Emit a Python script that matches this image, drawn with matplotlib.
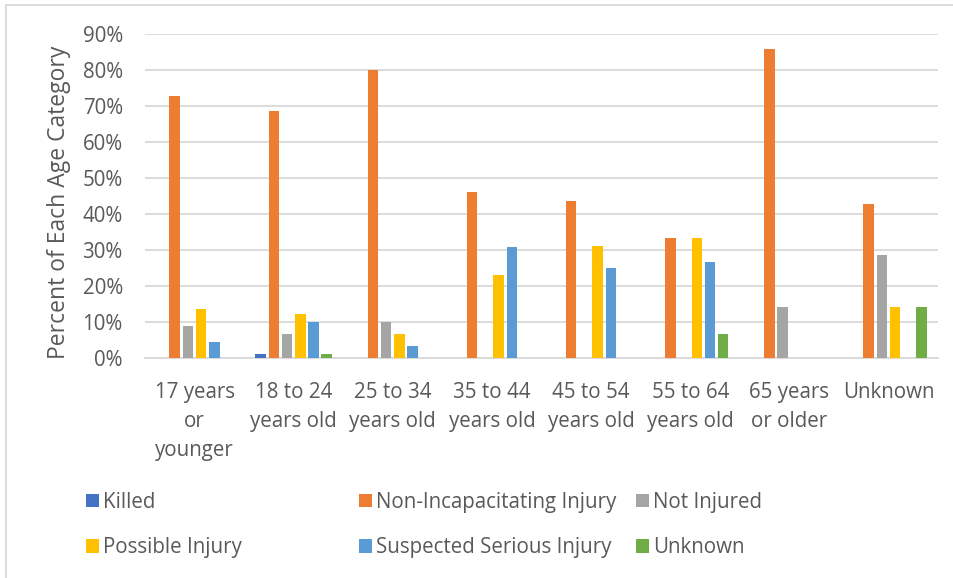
import matplotlib
matplotlib.use("Agg")
import matplotlib.pyplot as plt
from matplotlib.lines import Line2D
from matplotlib.patches import Patch
from matplotlib.ticker import PercentFormatter, MultipleLocator
import numpy as np

plt.rcParams['font.family'] = ['Open Sans', 'DejaVu Sans']

age_groups = ["17 years\nor\nyounger", "18 to 24\nyears old", "25 to 34\nyears old",
              "35 to 44\nyears old", "45 to 54\nyears old", "55 to 64\nyears old",
              "65 years\nor older", "Unknown"]

series_names = ["Killed", "Non-Incapacitating Injury", "Not Injured",
                "Possible Injury", "Suspected Serious Injury", "Unknown"]

killed = [0.0, 1.1, 0.0, 0.0, 0.0, 0.0, 0.0, 0.0]
non_incapacitating = [72.7, 68.5, 80.0, 46.2, 43.75, 33.3, 85.7, 42.9]
not_injured = [9.0, 6.7, 10.0, 0.0, 0.0, 0.0, 14.3, 28.6]
possible_injury = [13.6, 12.2, 6.7, 23.1, 31.25, 33.3, 0.0, 14.3]
suspected_serious = [4.5, 10.0, 3.3, 30.8, 25.0, 26.7, 0.0, 0.0]
unknown = [0.0, 1.1, 0.0, 0.0, 0.0, 6.7, 0.0, 14.3]

series_values = [killed, non_incapacitating, not_injured,
                 possible_injury, suspected_serious, unknown]
colors = ["#4472C4", "#ED7D31", "#A5A5A5", "#FFC000", "#5B9BD5", "#70AD47"]

text_color = "#595959"
grid_color = "#D9D9D9"

W, H = 954, 578
fig = plt.figure(figsize=(W / 100, H / 100), dpi=100)
ax = fig.add_axes([145 / W, 1 - 358 / H, (938 - 145) / W, (358 - 34) / H])

x = np.arange(len(age_groups))
slot = 0.1333
bar_w = 0.106
for j, (vals, col) in enumerate(zip(series_values, colors)):
    ax.bar(x + (j - 2.5) * slot, np.array(vals) / 100.0, width=bar_w,
           color=col, zorder=3)

ax.set_xlim(-0.5, len(age_groups) - 0.5)
ax.set_ylim(0, 0.9)
ax.yaxis.set_major_locator(MultipleLocator(0.1))
ax.yaxis.set_major_formatter(PercentFormatter(1.0, decimals=0))
ax.grid(axis='y', color=grid_color, linewidth=1.3, zorder=0)
for s in ['top', 'right', 'left']:
    ax.spines[s].set_visible(False)
ax.spines['bottom'].set_color(grid_color)
ax.spines['bottom'].set_linewidth(1.3)
ax.spines['bottom'].set_zorder(1)

ax.set_xticks(x)
ax.set_xticklabels(age_groups, linespacing=1.5)
ax.tick_params(axis='x', length=0, pad=17, labelsize=14.8, labelcolor=text_color)
ax.tick_params(axis='y', length=0, pad=16, labelsize=14.8, labelcolor=text_color)
for lbl in ax.get_xticklabels():
    lbl.set_horizontalalignment('center')

ax.set_ylabel("Percent of Each Age Category", fontsize=16.5, color=text_color)
ax.yaxis.set_label_coords((71 - 145) / (938 - 145), (358 - 202) / (358 - 34))

# legend laid out as three columns of two entries each
handles = [Patch(facecolor=c, edgecolor='none') for c in colors]
columns = [(0, 3, 86), (1, 4, 359), (2, 5, 636)]
for a, b, xpix in columns:
    leg = fig.legend([handles[a], handles[b]], [series_names[a], series_names[b]],
                     loc='center left', bbox_to_anchor=(xpix / W, 1 - 525 / H),
                     bbox_transform=fig.transFigure, frameon=False,
                     fontsize=14.8, handlelength=0.62, handleheight=0.62,
                     handletextpad=0.2, labelspacing=1.2, borderpad=0,
                     borderaxespad=0)
    for t in leg.get_texts():
        t.set_color(text_color)

# chart area outline
fig.add_artist(Line2D([6 / W, 6 / W], [0, 1 - 5 / H], transform=fig.transFigure,
                      color=grid_color, linewidth=1.3))
fig.add_artist(Line2D([6 / W, 1], [1 - 5 / H, 1 - 5 / H], transform=fig.transFigure,
                      color=grid_color, linewidth=1.3))

fig.savefig("out.png", dpi=100, facecolor="white")
